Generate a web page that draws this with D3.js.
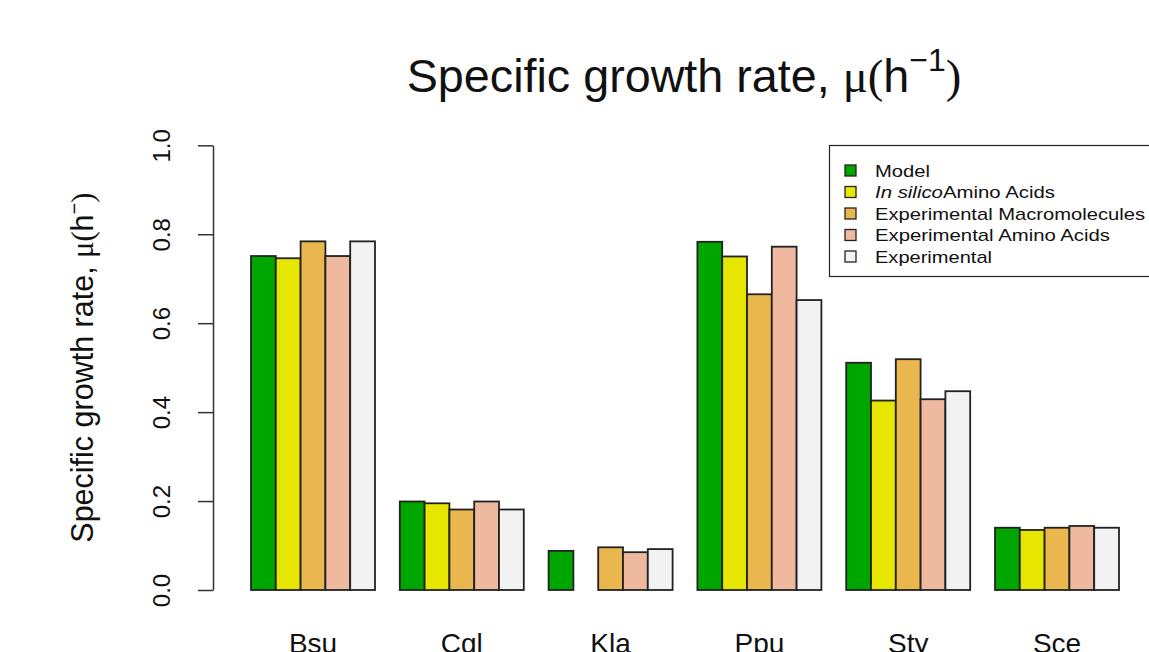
<!DOCTYPE html>
<html>
<head>
<meta charset="utf-8">
<script src="https://cdn.jsdelivr.net/npm/d3@7"></script>
<style>
  html, body { margin: 0; padding: 0; background: #fff; overflow: hidden; }
  svg { display: block; }
  text { font-family: "Liberation Sans", Arial, sans-serif; fill: #111; }
</style>
</head>
<body>
<script>
// Organisms on the x axis
const organisms = ["Bsu", "Cgl", "Kla", "Ppu", "Sty", "Sce"];

// Series names (legend order)
const seriesNames = ["Model", "In silico Amino Acids", "Experimental Macromolecules",
                     "Experimental Amino Acids", "Experimental"];

// Fill colours of the five series
const seriesColors = ["#00A600", "#E6E600", "#EAB64E", "#EEB99F", "#F2F2F2"];

// Growth rates (1/h) per series, one value per organism; null = no value
const model          = [0.751, 0.199, 0.088, 0.783, 0.511, 0.140];
const inSilicoAA     = [0.746, 0.195, null,  0.750, 0.426, 0.135];
const expMacro       = [0.784, 0.181, 0.096, 0.665, 0.519, 0.140];
const expAA          = [0.751, 0.199, 0.085, 0.772, 0.429, 0.144];
const experimental   = [0.784, 0.181, 0.092, 0.652, 0.447, 0.140];

const yTicks = [0, 0.2, 0.4, 0.6, 0.8, 1.0];

const seriesValues = [model, inSilicoAA, expMacro, expAA, experimental];

const W = 1149, H = 652;
const svg = d3.select("body").append("svg").attr("width", W).attr("height", H);

// Plot area
const plot = { left: 213, right: 1144, top: 145.3, bottom: 590 };

const x0 = d3.scaleBand()
  .domain(organisms)
  .range([251, 1119])
  .paddingInner(1 / 6)
  .paddingOuter(0);

const x1 = d3.scaleBand()
  .domain(d3.range(seriesNames.length))
  .range([0, x0.bandwidth()])
  .padding(0);

const y = d3.scaleLinear().domain([0, 1]).range([plot.bottom, plot.top]);

// Bars
const rows = [];
organisms.forEach((org, i) => {
  seriesValues.forEach((vals, s) => {
    if (vals[i] != null) rows.push({ org, s, v: vals[i] });
  });
});

svg.append("g")
  .selectAll("rect")
  .data(rows)
  .join("rect")
  .attr("x", d => x0(d.org) + x1(d.s))
  .attr("y", d => y(d.v))
  .attr("width", x1.bandwidth())
  .attr("height", d => y(0) - y(d.v))
  .attr("fill", d => seriesColors[d.s])
  .attr("stroke", "#222")
  .attr("stroke-width", 1.8);

// Y axis
const yAxis = svg.append("g")
  .attr("transform", `translate(${plot.left},0)`)
  .call(d3.axisLeft(y).tickValues(yTicks).tickSize(15).tickSizeOuter(0)
        .tickFormat(d3.format(".1f")));
yAxis.select(".domain").attr("stroke", "#333").attr("stroke-width", 1.5);
yAxis.selectAll(".tick line").attr("stroke", "#333").attr("stroke-width", 1.5);
yAxis.selectAll(".tick text")
  .attr("x", null).attr("dy", null)
  .attr("text-anchor", "middle")
  .attr("transform", "translate(-43,0) rotate(-90)")
  .style("font-size", "24px")
  .style("font-family", '"Liberation Sans", Arial, sans-serif')
  .attr("fill", "#111");

// X category labels
svg.append("g")
  .selectAll("text")
  .data(organisms)
  .join("text")
  .attr("x", d => x0(d) + x0.bandwidth() / 2)
  .attr("y", 653)
  .attr("text-anchor", "middle")
  .style("font-size", "28px")
  .text(d => d);

// Y axis title
const yt = svg.append("text")
  .attr("transform", `translate(93,${(plot.top + plot.bottom) / 2}) rotate(-90)`)
  .attr("text-anchor", "middle")
  .style("font-size", "30.5px");
yt.append("tspan").text("Specific growth rate, ");
yt.append("tspan").style("font-family", '"Liberation Serif", serif').text("\u03bc(");
yt.append("tspan").text("h");
yt.append("tspan").attr("dy", -12).style("font-size", "20px").text("\u2212");
yt.append("tspan").attr("dy", 12).style("font-family", '"Liberation Serif", serif').text(")");

// Title
const title = svg.append("text")
  .attr("x", 684)
  .attr("y", 92)
  .attr("text-anchor", "middle")
  .style("font-size", "46.7px");
title.append("tspan").text("Specific growth rate, ");
title.append("tspan").style("font-family", '"Liberation Serif", serif').text("\u03bc(");
title.append("tspan").text("h");
title.append("tspan").attr("dy", -21).style("font-size", "32px").text("\u22121");
title.append("tspan").attr("dy", 21).style("font-family", '"Liberation Serif", serif').text(")");

// Legend
const legend = svg.append("g");
legend.append("rect")
  .attr("x", 829.5).attr("y", 145.5)
  .attr("width", 340).attr("height", 131)
  .attr("fill", "#fff").attr("stroke", "#222").attr("stroke-width", 1.2);

const legendWidths = [55, 180, 270, 235, 117];
const rowY = d3.scalePoint().domain(d3.range(seriesNames.length)).range([170.5, 256.5]);

seriesNames.forEach((name, i) => {
  const cy = rowY(i);
  legend.append("rect")
    .attr("x", 845).attr("y", cy - 5.5)
    .attr("width", 11).attr("height", 11)
    .attr("fill", seriesColors[i]).attr("stroke", "#222").attr("stroke-width", 1.3);
  const t = legend.append("text")
    .attr("x", 875).attr("y", cy + 6)
    .style("font-size", "17px")
    .attr("textLength", legendWidths[i])
    .attr("lengthAdjust", "spacingAndGlyphs");
  if (i === 1) {
    t.append("tspan").style("font-style", "italic").text("In silico");
    t.append("tspan").text("Amino Acids");
  } else {
    t.text(name);
  }
});
</script>
</body>
</html>
